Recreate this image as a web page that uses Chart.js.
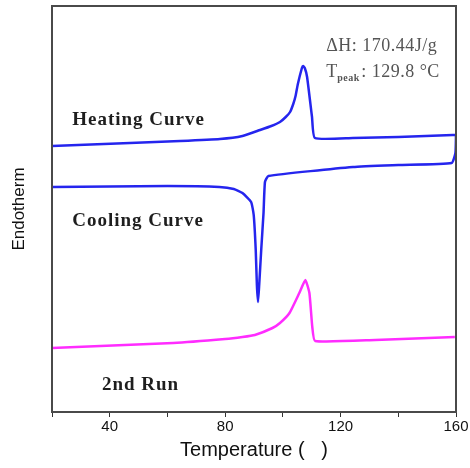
<!DOCTYPE html>
<html>
<head>
<meta charset="utf-8">
<script src="https://cdn.jsdelivr.net/npm/chart.js@4/dist/chart.umd.min.js"></script>
<style>
  body { margin: 0; background: #fff; }
  canvas { display: block; }
</style>
</head>
<body>
<canvas id="myChart" width="470" height="468"></canvas>
<script>
// DSC curves, temperature in degC, heat flow in arbitrary units (endotherm up)
const heatT  = [20, 47, 64.4, 78.2, 86, 92.1, 96, 99, 101, 102.5, 103.6, 104.4, 105.2, 106.6, 107, 107.6, 108.4, 110.1, 111.1, 124.3, 140, 158.9, 160];
const heatHF = [26.6, 26.9, 27.1, 27.3, 27.6, 28.2, 28.6, 29.0, 29.5, 30.0, 30.8, 31.6, 32.8, 34.4, 34.6, 34.4, 33.5, 29.5, 27.4, 27.4, 27.5, 27.7, 27.7];

// cooling run recorded from 160 down to 20
const coolT  = [160, 159.8, 158.5, 140, 124.3, 95, 93.8, 93.3, 92.5, 91.8, 91.4, 91.0, 90.6, 89.9, 89.0, 86, 83, 78, 60, 40, 20];
const coolHF = [27.7, 25.9, 24.9, 24.7, 24.5, 23.6, 23.0, 19.9, 16.2, 12.7, 11.0, 12.7, 16.2, 19.7, 21.0, 21.9, 22.3, 22.5, 22.6, 22.55, 22.5];

const runT  = [20, 62, 80, 86, 90.3, 96.4, 99, 102.3, 105.7, 107.8, 109.2, 110.2, 111.2, 132, 159.6];
const runHF = [6.4, 6.9, 7.3, 7.5, 7.7, 8.4, 8.9, 9.9, 11.9, 13.2, 11.9, 8.5, 7.1, 7.2, 7.5];

const xTicks = [40, 80, 120, 160];
const curveNames = ["Heating Curve", "Cooling Curve", "2nd Run"];

function puntos(xs, ys) {
  return xs.map((x, i) => ({ x: x, y: ys[i] }));
}

// frame around the plot + text labels
const marco = {
  id: "marco",
  afterDraw(chart) {
    const ctx = chart.ctx;
    const a = chart.chartArea;
    const sx = chart.scales.x;
    const sy = chart.scales.y;
    ctx.save();
    ctx.strokeStyle = "#4a4a4a";
    ctx.lineWidth = 2;
    ctx.strokeRect(a.left, a.top, a.right - a.left, a.bottom - a.top);

    ctx.fillStyle = "#1e1e1e";
    ctx.font = "bold 19px 'Liberation Serif'";
    ctx.letterSpacing = "1px";
    ctx.textBaseline = "alphabetic";
    ctx.fillText(curveNames[0], sx.getPixelForValue(27), sy.getPixelForValue(28.7));
    ctx.fillText(curveNames[1], sx.getPixelForValue(27), sy.getPixelForValue(18.6));
    ctx.fillText(curveNames[2], sx.getPixelForValue(37.3), sy.getPixelForValue(2.2));

    // peak annotation
    ctx.fillStyle = "#555";
    ctx.letterSpacing = "0.5px";
    ctx.font = "18px 'Liberation Serif'";
    const ax = sx.getPixelForValue(115);
    ctx.fillText("\u0394H: 170.44J/g", ax, sy.getPixelForValue(36.1));
    const by = sy.getPixelForValue(33.5);
    ctx.fillText("T", ax, by);
    ctx.font = "bold 10px 'Liberation Serif'";
    ctx.fillText("peak", ax + 11, by + 4);
    ctx.font = "18px 'Liberation Serif'";
    ctx.fillText(": 129.8 \u00B0C", ax + 35, by);
    ctx.restore();
  }
};

const config = {
  type: "line",
  data: {
    datasets: [
      { data: puntos(heatT, heatHF), borderColor: "#2525ee", borderWidth: 2.5 },
      { data: puntos(coolT, coolHF), borderColor: "#2525ee", borderWidth: 2.5 },
      { data: puntos(runT, runHF), borderColor: "#ff2cff", borderWidth: 2.5 }
    ]
  },
  options: {
    responsive: false,
    animation: false,
    layout: { padding: { top: 6, right: 14, left: 0, bottom: 0 } },
    elements: { point: { radius: 0 }, line: { tension: 0.15 } },
    plugins: { legend: { display: false }, tooltip: { enabled: false } },
    scales: {
      x: {
        type: "linear",
        min: 20,
        max: 160,
        afterFit: (s) => { s.height = 56; },
        afterBuildTicks: (s) => {
          s.ticks = [20, 40, 60, 80, 100, 120, 140, 160].map((v) => ({ value: v }));
        },
        ticks: {
          padding: 1,
          maxRotation: 0,
          color: "#111",
          font: { family: "'Liberation Sans'", size: 15 },
          callback: (v) => (xTicks.includes(v) ? String(v) : "")
        },
        grid: { drawOnChartArea: false, tickLength: 5, color: "#333" },
        border: { color: "#4a4a4a", width: 2 },
        title: {
          display: true,
          text: "Temperature (   )",
          color: "#111",
          font: { family: "'Liberation Sans'", size: 20 },
          padding: { top: 0, bottom: 6 }
        }
      },
      y: {
        min: 0,
        max: 40.6,
        afterFit: (s) => { s.width = 52; },
        ticks: { display: false },
        grid: { display: false },
        border: { color: "#4a4a4a", width: 2 },
        title: {
          display: true,
          text: "Endotherm",
          color: "#111",
          font: { family: "'Liberation Sans'", size: 17 },
          padding: { top: 9, bottom: 0 }
        }
      }
    }
  },
  plugins: [marco]
};

new Chart(document.getElementById("myChart"), config);
</script>
</body>
</html>
